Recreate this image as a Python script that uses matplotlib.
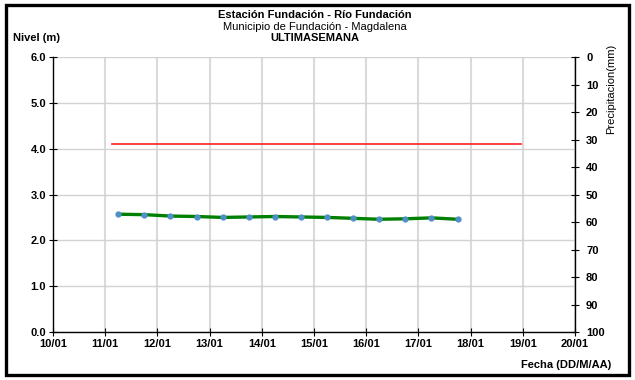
import numpy as np
import matplotlib
matplotlib.use("Agg")
import matplotlib.pyplot as plt
import matplotlib.dates as mdates
from matplotlib.patches import Rectangle
from datetime import datetime

plt.rcParams['font.family'] = ['Liberation Sans', 'DejaVu Sans']

# datos de nivel (cada 12 horas)
fechas = ["2020-01-11 06:00", "2020-01-11 18:00", "2020-01-12 06:00", "2020-01-12 18:00",
          "2020-01-13 06:00", "2020-01-13 18:00", "2020-01-14 06:00", "2020-01-14 18:00",
          "2020-01-15 06:00", "2020-01-15 18:00", "2020-01-16 06:00", "2020-01-16 18:00",
          "2020-01-17 06:00", "2020-01-17 18:00"]
nivel = [2.57, 2.56, 2.53, 2.52, 2.50, 2.51, 2.52, 2.51, 2.50, 2.48, 2.46, 2.47, 2.49, 2.46]

# umbral
umbral_fechas = ["2020-01-11 03:00", "2020-01-18 23:00"]
umbral_valor = [4.1, 4.1]

x_ini = "2020-01-10"
x_fin = "2020-01-20"
nivel_ticks = [0.0, 1.0, 2.0, 3.0, 4.0, 5.0, 6.0]
precip_ticks = [0, 10, 20, 30, 40, 50, 60, 70, 80, 90, 100]


def to_dt(lst):
    return [datetime.strptime(s, "%Y-%m-%d %H:%M") for s in lst]


fig = plt.figure(figsize=(6.35, 3.8), dpi=100)
fig.patches.append(Rectangle((0.009, 0.012), 0.982, 0.974, transform=fig.transFigure,
                             fill=False, edgecolor='black', linewidth=2.4))

ax = fig.add_axes([0.0835, 0.1263, 0.822, 0.7237])
ax.plot(to_dt(umbral_fechas), umbral_valor, color='#ff2020', lw=1.2, zorder=3)
ax.plot(to_dt(fechas), nivel, color='#008000', lw=2.4, marker='o', markersize=3.5,
        markerfacecolor='#4f8fc9', markeredgecolor='#4f8fc9', zorder=4)

ax.set_xlim(datetime.strptime(x_ini, "%Y-%m-%d"), datetime.strptime(x_fin, "%Y-%m-%d"))
ax.set_ylim(0, 6)
ax.set_yticks(nivel_ticks)
ax.set_yticklabels(["%.1f" % v for v in nivel_ticks], fontweight='bold', fontsize=8)
ax.xaxis.set_major_locator(mdates.DayLocator())
ax.xaxis.set_major_formatter(mdates.DateFormatter("%d/%m"))
for lb in ax.get_xticklabels():
    lb.set_fontweight('bold')
    lb.set_fontsize(8)
ax.tick_params(axis='both', direction='inout', length=6, width=0.8, pad=2)
ax.grid(axis='x', color='#dadada', lw=1.5)
ax.grid(axis='y', color='#d2d2d2', lw=1.0)
ax.set_axisbelow(True)
ax.spines['top'].set_visible(False)
ax.spines['right'].set_visible(False)
ax.spines['left'].set_linewidth(1.0)
ax.spines['bottom'].set_linewidth(1.0)

ax2 = ax.twinx()
ax2.set_ylim(100, 0)
ax2.set_yticks(precip_ticks)
ax2.set_yticklabels([str(v) for v in precip_ticks], fontweight='bold', fontsize=8)
ax2.tick_params(axis='y', direction='inout', length=6, width=0.8, pad=5)
ax2.spines['top'].set_visible(False)
ax2.spines['left'].set_visible(False)
ax2.spines['bottom'].set_visible(False)
ax2.spines['right'].set_linewidth(1.0)

fig.text(0.963, 0.885, "Precipitacion(mm)", rotation=90, ha='center', va='top', fontsize=8)
fig.text(0.496, 0.96, "Estación Fundación - Río Fundación", ha='center', va='center',
         fontsize=8, fontweight='bold')
fig.text(0.496, 0.93, "Municipio de Fundación - Magdalena", ha='center', va='center',
         fontsize=8)
fig.text(0.496, 0.9, "ULTIMASEMANA", ha='center', va='center', fontsize=8, fontweight='bold')
fig.text(0.02, 0.9, "Nivel (m)", ha='left', va='center', fontsize=8, fontweight='bold')
fig.text(0.962, 0.04, "Fecha (DD/M/AA)", ha='right', va='center', fontsize=8,
         fontweight='bold')

fig.savefig("out.png", dpi=100)
